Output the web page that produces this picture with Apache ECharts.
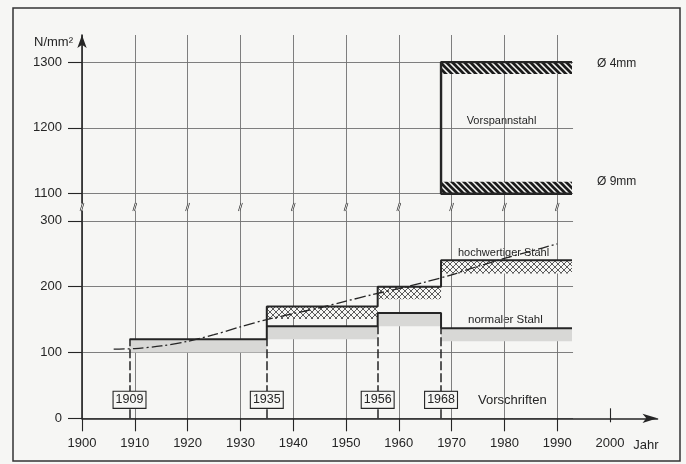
<!DOCTYPE html>
<html><head><meta charset="utf-8">
<script src="https://cdn.jsdelivr.net/npm/echarts@6/dist/echarts.min.js"></script>
<style>html,body{margin:0;padding:0;background:#f6f6f4}#c{width:686px;height:464px}</style>
</head><body><div id="c"></div>
<script>
// ---- data ----
const vorschriften = [1909, 1935, 1956, 1968];          // years of the regulations
const normalTop = [120, 140, 160, 137];                  // normaler Stahl, N/mm2
const normalBandLow = [100, 120, 140, 117];
const hochYears = [1935, 1956, 1968];                    // hochwertiger Stahl
const hochTop = [170, 200, 240];
const hochBandLow = [151, 181, 220];
const vorspannStart = 1968;                              // Vorspannstahl
const vorspann4 = [1282, 1300];                          // Ø 4mm band (low, high)
const vorspann9 = [1100, 1118];                          // Ø 9mm band (low, high)
const endYear = 1992.8;
const trendYears  = [1906,1910,1915,1920,1925,1930,1935,1940,1945,1950,1955,1960,1965,1970,1975,1980,1985,1990];
const trendValues = [105, 106, 110, 117, 127, 139, 150, 159, 168, 178, 188, 197, 207, 218, 231, 243, 254, 265];
const xTickYears  = [1900,1910,1920,1930,1940,1950,1960,1970,1980,1990];
const xLabelYears = [1900,1910,1920,1930,1940,1950,1960,1970,1980,1990,2000];
const yTicksLow  = [0, 100, 200, 300];
const yTicksHigh = [1100, 1200, 1300];

// ---- styling / layout ----
const INK = '#252525', GRID = '#707070', BG = '#f6f6f4';
const FONT = '"Liberation Sans", Arial, sans-serif';
const LOW_MIN = 0, LOW_MAX = 321.1, HIGH_MIN = 1079.8, HIGH_MAX = 1341.2;
const X_MIN = 1900, X_GRID_MAX = 1993, X_AXIS_MAX = 2009;
const LABEL_LEVEL = 28;

function makePattern(size, draw) {
  const c = document.createElement('canvas');
  c.width = c.height = size;
  draw(c.getContext('2d'), size);
  return { image: c, repeat: 'repeat' };
}
const crossFill = makePattern(6, (ctx, s) => {
  ctx.fillStyle = BG; ctx.fillRect(0, 0, s, s);
  ctx.strokeStyle = '#4a4a4a'; ctx.lineWidth = 0.9;
  ctx.beginPath(); ctx.moveTo(0, 0); ctx.lineTo(s, s); ctx.moveTo(s, 0); ctx.lineTo(0, s); ctx.stroke();
});
const stripeFill = makePattern(6, (ctx, s) => {
  ctx.fillStyle = BG; ctx.fillRect(0, 0, s, s);
  ctx.strokeStyle = '#1c1c1c'; ctx.lineWidth = 2.7;
  ctx.beginPath();
  ctx.moveTo(-2, -2); ctx.lineTo(s + 2, s + 2);
  ctx.moveTo(-2, s - 2); ctx.lineTo(2, s + 2);
  ctx.moveTo(s - 2, -2); ctx.lineTo(s + 2, 2);
  ctx.stroke();
});

function bandRender(fill) {
  return function (params, api) {
    const a = api.coord([api.value(0), api.value(3)]);
    const b = api.coord([api.value(1), api.value(2)]);
    return { type: 'rect', shape: { x: a[0], y: a[1], width: b[0] - a[0], height: b[1] - a[1] }, style: { fill: fill } };
  };
}

const normalBands = vorschriften.map((y, i) => [y, i < vorschriften.length - 1 ? vorschriften[i + 1] : endYear, normalBandLow[i], normalTop[i]]);
const hochBands = hochYears.map((y, i) => [y, i < hochYears.length - 1 ? hochYears[i + 1] : endYear, hochBandLow[i], hochTop[i]]);
const vorspannBands = [[vorspannStart, endYear, vorspann4[0], vorspann4[1]], [vorspannStart, endYear, vorspann9[0], vorspann9[1]]];

const normalLine = vorschriften.map((y, i) => [y, normalTop[i]]).concat([[endYear, normalTop[normalTop.length - 1]]]);
const hochLine = [[hochYears[0], normalTop[1]]].concat(hochYears.map((y, i) => [y, hochTop[i]])).concat([[endYear, hochTop[hochTop.length - 1]]]);
const vorspannLine = [[endYear, vorspann4[1]], [vorspannStart, vorspann4[1]], [vorspannStart, vorspann9[0]], [endYear, vorspann9[0]]];
const trendLine = trendYears.map((y, i) => [y, trendValues[i]]);
const dashTops = vorschriften.map((y, i) => i === 0 ? normalTop[0] : Math.min(normalTop[i - 1], normalTop[i]));

const plain = v => String(v);
const labelStyle = { fontSize: 13, fontFamily: FONT, color: INK, formatter: plain };
const gridX = (gi) => ({
  gridIndex: gi, type: 'value', min: X_MIN, max: X_GRID_MAX,
  axisLine: { show: false }, axisTick: { show: false, customValues: xTickYears },
  axisLabel: { show: false }, splitLine: { show: true, lineStyle: { color: GRID, width: 0.9 } }
});

const option = {
  backgroundColor: BG,
  animation: false,
  grid: [
    { left: 82, top: 35, width: (X_GRID_MAX - X_MIN) * 5.28, height: 172 },
    { left: 82, top: 207, width: (X_GRID_MAX - X_MIN) * 5.28, height: 211.3 },
    { left: 82, top: 408.3, width: (X_AXIS_MAX - X_MIN) * 5.28, height: 10 }
  ],
  xAxis: [
    gridX(0), gridX(1),
    {
      gridIndex: 2, type: 'value', min: X_MIN, max: X_AXIS_MAX,
      axisLine: { show: true, symbol: ['none', 'arrow'], symbolSize: [7, 15], lineStyle: { color: INK, width: 1.6 } },
      axisTick: { show: true, customValues: xTickYears, length: 13, lineStyle: { color: INK, width: 1.1 } },
      axisLabel: Object.assign({ customValues: xLabelYears, margin: 19 }, labelStyle),
      splitLine: { show: false },
      name: 'Jahr', nameLocation: 'end', nameGap: 1,
      nameTextStyle: { fontSize: 13, fontFamily: FONT, color: INK, align: 'right', verticalAlign: 'top', padding: [21, 0, 0, 0] }
    },
    {
      gridIndex: 2, type: 'value', min: X_MIN, max: X_AXIS_MAX,
      axisLine: { show: false },
      axisTick: { show: true, inside: true, customValues: xLabelYears.filter(y => xTickYears.indexOf(y) < 0), length: 14, lineStyle: { color: INK, width: 1.1 } },
      axisLabel: { show: false }, splitLine: { show: false }
    }
  ],
  yAxis: [
    {
      gridIndex: 0, type: 'value', min: HIGH_MIN, max: HIGH_MAX,
      axisLine: { show: true, symbol: ['none', 'arrow'], symbolSize: [7, 13], lineStyle: { color: INK, width: 1.6 } },
      axisTick: { show: true, customValues: yTicksHigh, length: 14, lineStyle: { color: INK, width: 1.1 } },
      axisLabel: Object.assign({ customValues: yTicksHigh, margin: 20 }, labelStyle),
      splitLine: { show: true, lineStyle: { color: GRID, width: 0.9 } },
      name: 'N/mm²', nameLocation: 'end', nameGap: -7,
      nameTextStyle: { fontSize: 13, fontFamily: FONT, color: INK, align: 'right', verticalAlign: 'middle', padding: [0, 9, 0, 0] }
    },
    {
      gridIndex: 1, type: 'value', min: LOW_MIN, max: LOW_MAX,
      axisLine: { show: true, lineStyle: { color: INK, width: 1.6 } },
      axisTick: { show: true, customValues: yTicksLow, length: 14, lineStyle: { color: INK, width: 1.1 } },
      axisLabel: Object.assign({ customValues: yTicksLow, margin: 20 }, labelStyle),
      splitLine: { show: true, lineStyle: { color: GRID, width: 0.9 } }
    },
    { gridIndex: 2, type: 'value', show: false, min: 0, max: 1 }
  ],
  series: [
    { type: 'custom', name: 'normal band', xAxisIndex: 1, yAxisIndex: 1, data: normalBands, encode: { x: [0, 1], y: [2, 3] }, renderItem: bandRender('#d8d8d6'), silent: true, z: 1 },
    { type: 'custom', name: 'hoch band', xAxisIndex: 1, yAxisIndex: 1, data: hochBands, encode: { x: [0, 1], y: [2, 3] }, renderItem: bandRender(crossFill), silent: true, z: 1 },
    { type: 'custom', name: 'vorspann band', xAxisIndex: 0, yAxisIndex: 0, data: vorspannBands, encode: { x: [0, 1], y: [2, 3] }, renderItem: bandRender(stripeFill), silent: true, z: 1 },
    {
      type: 'line', name: 'normaler Stahl', xAxisIndex: 1, yAxisIndex: 1, data: normalLine, step: 'end',
      symbol: 'none', lineStyle: { color: INK, width: 2 }, silent: true, z: 3,
      markLine: {
        silent: true, symbol: 'none', label: { show: false },
        lineStyle: { color: INK, width: 1.5, type: [9, 3] },
        data: vorschriften.map((y, i) => [{ coord: [y, 0] }, { coord: [y, dashTops[i]] }])
      }
    },
    { type: 'line', name: 'hochwertiger Stahl', xAxisIndex: 1, yAxisIndex: 1, data: hochLine, step: 'end', symbol: 'none', lineStyle: { color: INK, width: 2 }, silent: true, z: 3 },
    { type: 'line', name: 'Vorspannstahl', xAxisIndex: 0, yAxisIndex: 0, data: vorspannLine, symbol: 'none', lineStyle: { color: INK, width: 2.4 }, silent: true, z: 3 },
    { type: 'line', name: 'Trend', xAxisIndex: 1, yAxisIndex: 1, data: trendLine, smooth: 0.3, symbol: 'none', lineStyle: { color: INK, width: 1.3, type: [11, 3, 2, 3] }, silent: true, z: 4 },
    {
      type: 'scatter', name: 'Vorschriften', xAxisIndex: 1, yAxisIndex: 1, data: vorschriften.map(y => [y, LABEL_LEVEL]),
      symbolSize: 0, silent: true, z: 6, itemStyle: { opacity: 1, color: INK },
      label: { show: true, position: 'inside', formatter: p => String(p.value[0]), fontSize: 12.5, fontFamily: FONT, color: INK,
        textBorderWidth: 0, textShadowBlur: 0, opacity: 1,
        backgroundColor: BG, borderColor: INK, borderWidth: 1.1, padding: [2, 2, 1, 2] }
    },
    {
      type: 'scatter', name: 'break gap', xAxisIndex: 1, yAxisIndex: 1, clip: false, data: xTickYears.map(y => [y, LOW_MAX]),
      symbol: 'rect', symbolSize: [4, 7], itemStyle: { color: BG, opacity: 1 }, silent: true, z: 7
    },
    {
      type: 'scatter', name: 'break mark', xAxisIndex: 1, yAxisIndex: 1, clip: false, data: xTickYears.map(y => [y, LOW_MAX]),
      symbol: 'path://M0,10L3,0M2,10L5,0', symbolSize: [4, 8], itemStyle: { color: 'none', borderColor: INK, borderWidth: 0.9, opacity: 1 }, silent: true, z: 8
    }
  ],
  graphic: [
    { type: 'rect', shape: { x: 13, y: 8, width: 667, height: 453 }, style: { fill: null, stroke: '#333', lineWidth: 1.5 }, silent: true },
    { type: 'text', x: 597, y: 64, style: { text: 'Ø 4mm', fontSize: 12, fontFamily: FONT, fill: INK, align: 'left', verticalAlign: 'middle' } },
    { type: 'text', x: 597, y: 182, style: { text: 'Ø 9mm', fontSize: 12, fontFamily: FONT, fill: INK, align: 'left', verticalAlign: 'middle' } },
    { type: 'text', x: 501.5, y: 121, style: { text: 'Vorspannstahl', fontSize: 11, fontFamily: FONT, fill: INK, align: 'center', verticalAlign: 'middle' } },
    { type: 'text', x: 458, y: 253, style: { text: 'hochwertiger Stahl', fontSize: 11, fontFamily: FONT, fill: INK, align: 'left', verticalAlign: 'middle' } },
    { type: 'text', x: 468, y: 320, style: { text: 'normaler Stahl', fontSize: 11.5, fontFamily: FONT, fill: INK, align: 'left', verticalAlign: 'middle' } },
    { type: 'text', x: 478, y: 400, style: { text: 'Vorschriften', fontSize: 13, fontFamily: FONT, fill: INK, align: 'left', verticalAlign: 'middle' } }
  ]
};

const chart = echarts.init(document.getElementById('c'), null, { renderer: 'canvas' });
chart.setOption(option);
</script>
</body></html>
